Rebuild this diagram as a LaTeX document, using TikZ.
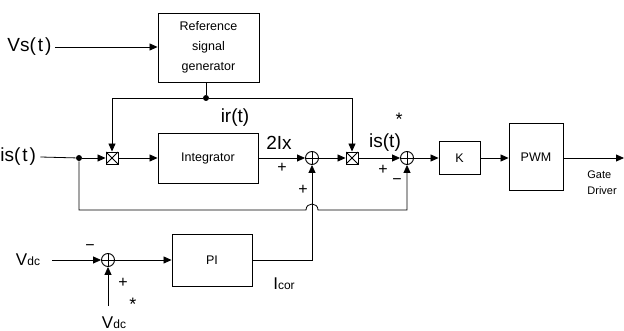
\documentclass[tikz,border=0pt]{standalone}
\usepackage{fontspec}
\setmainfont{Liberation Sans}
\usetikzlibrary{arrows.meta}
\begin{document}
\begin{tikzpicture}[x=1pt,y=-1pt,
  blk/.style={draw, line width=0.9pt, inner sep=0, align=center, font=\fontsize{12.5}{20}\selectfont},
  mult/.style={draw, line width=0.9pt, minimum size=12pt, inner sep=0, path picture={\draw (path picture bounding box.south west) -- (path picture bounding box.north east) (path picture bounding box.north west) -- (path picture bounding box.south east);}},
  sumc/.style={draw, line width=0.9pt, circle, minimum size=13pt, inner sep=0, path picture={\draw (path picture bounding box.south) -- (path picture bounding box.north) (path picture bounding box.west) -- (path picture bounding box.east);}},
  dotn/.style={circle, fill, minimum size=6pt, inner sep=0},
  arr/.style={-{Triangle[length=8pt,width=7pt]}},
  lbl/.style={font=\fontsize{19}{19}\selectfont, inner sep=0},
  sgn/.style={font=\fontsize{16}{16}\selectfont, inner sep=0},
  star/.style={font=\fontsize{18}{18}\selectfont, inner sep=0},
  small/.style={font=\fontsize{11}{16}\selectfont, inner sep=0, align=left},
  line width=0.8pt]
\useasboundingbox (0,0) rectangle (624,331);

% blocks
\node[blk, minimum width=101pt, minimum height=69pt] (ref) at (208.5,47.5) {Reference\\signal\\generator};
\node[blk, minimum width=100pt, minimum height=50pt] (integ) at (208,158) {Integrator};
\node[blk, minimum width=41pt, minimum height=33pt] (k) at (459.5,158) {K};
\node[blk, minimum width=54pt, minimum height=67pt] (pwm) at (536,157) {PWM};
\node[blk, minimum width=80pt, minimum height=52pt] (pi) at (212,260) {PI};

% junctions
\node[mult] (m1) at (112,158) {};
\node[mult] (m2) at (352,158) {};
\node[sumc] (s1) at (312,158) {};
\node[sumc] (s2) at (407,158) {};
\node[sumc] (s3) at (108,260) {};
\node[dotn] (d1) at (206,98) {};
\node[dotn] (d2) at (79,158) {};

% labels
\node[lbl, anchor=west] (vs) at (7,47) {Vs(\kern2pt t\kern2pt)};
\node[lbl, anchor=west] (is) at (0,157) {is(\kern2pt t\kern2pt)};
\node[lbl] (ir) at (235,118) {ir(t)};
\node[lbl] (ix) at (279,143) {2Ix};
\node[lbl] (isr) at (385,143) {is(t)};
\node[star] (st1) at (399,119) {*};
\node[sgn] (p1) at (282,168) {+};
\node[sgn] (p2) at (303,190) {+};
\node[sgn] (p3) at (383,170) {+};
\node[sgn] (mn1) at (397,182) {\textminus};
\node[sgn] (mn2) at (90,248) {\textminus};
\node[sgn] (p4) at (123,283) {+};
\node[star] (st2) at (133,304) {*};
\node[font=\fontsize{17}{17}\selectfont, inner sep=0] (vdc) at (28,260) {V{\fontsize{12}{12}\selectfont dc}};
\node[font=\fontsize{17}{17}\selectfont, inner sep=0] (vdcs) at (114,323) {V{\fontsize{12}{12}\selectfont dc}};
\node[font=\fontsize{17}{17}\selectfont, inner sep=0] (icor) at (284,284) {I{\fontsize{12}{12}\selectfont cor}};
\node[small, anchor=west] (gd) at (587,183) {Gate\\Driver};

\coordinate (vdcin) at (52,260);
\coordinate (vdcbot) at (108,306);
\coordinate (out) at (624,158);
\coordinate (fb1) at (79,210);
\coordinate (hopL) at (306,210);
\coordinate (hopR) at (318,210);
\coordinate (fb2) at (407,210);

% connectors
\draw[arr] (vs.east) ++(3,0) -- (ref.west |- vs.east);
\draw (d1) -- (d1 |- ref.south);
\draw[arr] (d1) -| (m1);
\draw[arr] (d1) -| (m2);
\draw (is.east) ++(4,0) -- (d2);
\draw[arr] (d2) -- (m1);
\draw[arr] (m1) -- (integ);
\draw[arr] (integ) -- (s1);
\draw[arr] (s1) -- (m2);
\draw[arr] (m2) -- (s2);
\draw[arr] (s2) -- (k);
\draw[arr] (k) -- (pwm.west |- k.east);
\draw[arr] (pwm.east |- out) -- (out);
\draw[arr] (d2) -- (fb1) -- (hopL) .. controls (306,202) and (318,202) .. (hopR) -- (fb2) -- (s2);
\draw[arr] (vdcin) -- (s3);
\draw[arr] (vdcbot) -- (s3);
\draw[arr] (s3) -- (pi);
\draw[arr] (pi) -| (s1);
\end{tikzpicture}
\end{document}
